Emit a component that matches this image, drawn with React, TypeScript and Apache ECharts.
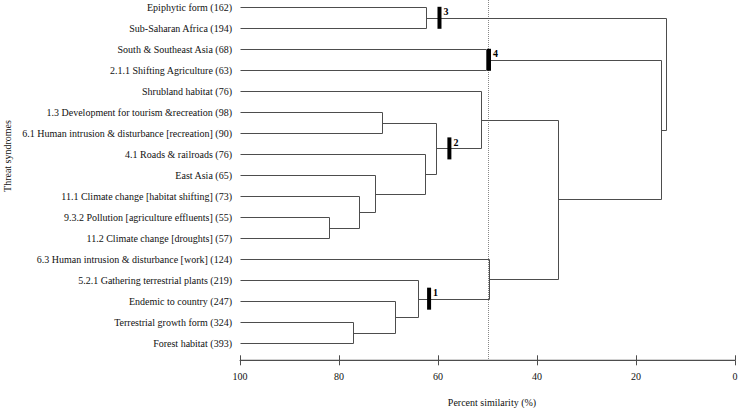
import React, { useEffect, useRef } from "react";
import * as echarts from "echarts";

// Leaves in display order (top to bottom)
const leaves: string[] = [
  "Epiphytic form (162)",
  "Sub-Saharan Africa (194)",
  "South & Southeast Asia (68)",
  "2.1.1 Shifting Agriculture (63)",
  "Shrubland habitat (76)",
  "1.3 Development for tourism &recreation (98)",
  "6.1 Human intrusion & disturbance [recreation] (90)",
  "4.1 Roads & railroads (76)",
  "East Asia (65)",
  "11.1 Climate change [habitat shifting] (73)",
  "9.3.2 Pollution [agriculture effluents] (55)",
  "11.2 Climate change [droughts] (57)",
  "6.3 Human intrusion & disturbance [work] (124)",
  "5.2.1 Gathering terrestrial plants (219)",
  "Endemic to country (247)",
  "Terrestrial growth form (324)",
  "Forest habitat (393)",
];

// Merges: [childA, childB, percent similarity]; node ids 0..16 are leaves, 17+ are merges in order
const mergeA: number[] = [0, 2, 5, 10, 9, 8, 7, 19, 4, 15, 14, 13, 12, 25, 18, 17];
const mergeB: number[] = [1, 3, 6, 11, 20, 21, 22, 23, 24, 16, 26, 27, 28, 29, 30, 31];
const mergeSim: number[] = [62.5, 50.4, 71.3, 82.1, 75.9, 72.8, 62.6, 60.4, 51.3, 77.2, 68.7, 64.0, 49.7, 35.7, 15.0, 14.0];

// Cluster markers: label, node id, similarity position
const markerLabels: string[] = ["3", "4", "2", "1"];
const markerNodes: number[] = [17, 18, 24, 28];
const markerSim: number[] = [59.7, 49.7, 57.7, 61.8];

const cutoff = 50;
const xTicks = { min: 0, max: 100, interval: 20 };

export default function App() {
  const ref = useRef<HTMLDivElement>(null);

  useEffect(() => {
    if (!ref.current) return;
    const chart = echarts.init(ref.current, undefined, { renderer: "svg" });

    // compute node positions
    const nodeX: number[] = leaves.map(() => 100);
    const nodeY: number[] = leaves.map((_, i) => i);
    mergeA.forEach((a, k) => {
      const b = mergeB[k];
      nodeX.push(mergeSim[k]);
      nodeY.push((nodeY[a] + nodeY[b]) / 2);
    });

    const treeData = mergeA.map((a, k) => {
      const b = mergeB[k];
      return [mergeSim[k], nodeY[a], nodeY[b], nodeX[a], nodeX[b]];
    });
    const markerData = markerNodes.map((n, k) => [markerSim[k], nodeY[n], k]);

    const lineColor = "#4d4d4d";
    const font = "Liberation Serif";
    const gridBox = {
      left: 240,
      right: 3,
      top: 7.3,
      bottom: 64.7,
      containLabel: false,
      outerBoundsMode: "none",
    };
    const axisOffset = 17;

    const baseX = {
      type: "value",
      min: xTicks.min,
      max: xTicks.max,
      interval: xTicks.interval,
      inverse: true,
      position: "bottom",
      offset: axisOffset,
      splitLine: { show: false },
    };

    chart.setOption({
      animation: false,
      grid: [{ ...gridBox }, { ...gridBox }],
      xAxis: [
        {
          ...baseX,
          gridIndex: 0,
          axisLine: { show: true, onZero: false, lineStyle: { color: lineColor, width: 1 } },
          axisTick: { show: true, length: 5, inside: false, lineStyle: { color: lineColor } },
          axisLabel: { color: "#111", fontFamily: font, fontSize: 10, margin: 11 },
          name: "Percent similarity (%)",
          nameLocation: "middle",
          nameGap: 37,
          nameTextStyle: { color: "#111", fontFamily: font, fontSize: 10, padding: [0, 0, 0, 9] },
        },
        {
          ...baseX,
          gridIndex: 1,
          axisLine: { show: false, onZero: false },
          axisTick: { show: true, length: 5, inside: true, lineStyle: { color: lineColor } },
          axisLabel: { show: false },
        },
      ],
      yAxis: [
        {
          type: "value",
          gridIndex: 0,
          min: 0,
          max: leaves.length - 1,
          interval: 1,
          inverse: true,
          axisLine: { show: false, onZero: false },
          axisTick: { show: false },
          splitLine: { show: false },
          axisLabel: {
            color: "#111",
            fontFamily: font,
            fontSize: 10,
            margin: 8,
            formatter: (v: number) => leaves[Math.round(v)] ?? "",
          },
        },
        {
          type: "value",
          gridIndex: 1,
          min: 0,
          max: leaves.length - 1,
          inverse: true,
          axisLine: { show: false, onZero: false },
          axisTick: { show: false },
          axisLabel: { show: false },
          splitLine: { show: false },
        },
      ],
      graphic: [
        {
          type: "text",
          x: 7,
          y: 156,
          rotation: Math.PI / 2,
          style: {
            text: "Threat syndromes",
            fill: "#111",
            fontFamily: font,
            fontSize: 10,
            align: "center",
            verticalAlign: "middle",
          },
        },
      ],
      series: [
        {
          // cutoff line and baseline of the similarity axis
          type: "custom",
          xAxisIndex: 0,
          yAxisIndex: 0,
          data: [[cutoff]],
          silent: true,
          clip: false,
          z: 1,
          renderItem: (params: any, api: any) => {
            const top = api.coord([cutoff, 0]);
            const bottom = api.coord([cutoff, leaves.length - 1]);
            const x = Math.round(top[0]) + 0.5;
            const yAxisLine = bottom[1] + axisOffset;
            const left = api.coord([xTicks.max, leaves.length - 1]);
            const right = api.coord([xTicks.min, leaves.length - 1]);
            return {
              type: "group",
              children: [
                {
                  type: "line",
                  shape: { x1: x, y1: 0, x2: x, y2: yAxisLine },
                  style: { stroke: "#888", lineWidth: 1, lineDash: [1, 1] },
                },
                {
                  type: "line",
                  shape: { x1: left[0], y1: yAxisLine, x2: right[0], y2: yAxisLine },
                  style: { stroke: lineColor, lineWidth: 1.3 },
                },
              ],
            };
          },
        },
        {
          type: "custom",
          xAxisIndex: 0,
          yAxisIndex: 0,
          data: treeData,
          silent: true,
          z: 2,
          renderItem: (params: any, api: any) => {
            const h = api.value(0);
            const yA = api.value(1);
            const yB = api.value(2);
            const xA = api.value(3);
            const xB = api.value(4);
            const pts = [
              api.coord([xA, yA]),
              api.coord([h, yA]),
              api.coord([h, yB]),
              api.coord([xB, yB]),
            ].map((p: number[]) => [Math.round(p[0]) + 0.5, Math.round(p[1]) + 0.5]);
            return {
              type: "polyline",
              shape: { points: pts },
              style: { stroke: lineColor, lineWidth: 1, fill: "none" },
            };
          },
        },
        {
          type: "custom",
          xAxisIndex: 0,
          yAxisIndex: 0,
          data: markerData,
          silent: true,
          z: 3,
          renderItem: (params: any, api: any) => {
            const p = api.coord([api.value(0), api.value(1)]);
            const k = api.value(2);
            return {
              type: "group",
              children: [
                {
                  type: "rect",
                  shape: { x: p[0] - 2, y: p[1] - 11, width: 4, height: 22 },
                  style: { fill: "#000" },
                },
                {
                  type: "text",
                  x: p[0] + 4,
                  y: p[1] - 6,
                  style: {
                    text: markerLabels[k],
                    fill: "#000",
                    fontFamily: font,
                    fontSize: 10,
                    fontWeight: "bold",
                    align: "left",
                    verticalAlign: "middle",
                  },
                },
              ],
            };
          },
        },
      ],
    });

    return () => chart.dispose();
  }, []);

  return (
    <div
      ref={ref}
      style={{ position: "absolute", left: 0, top: 0, width: 738, height: 408, background: "#fff" }}
    />
  );
}
